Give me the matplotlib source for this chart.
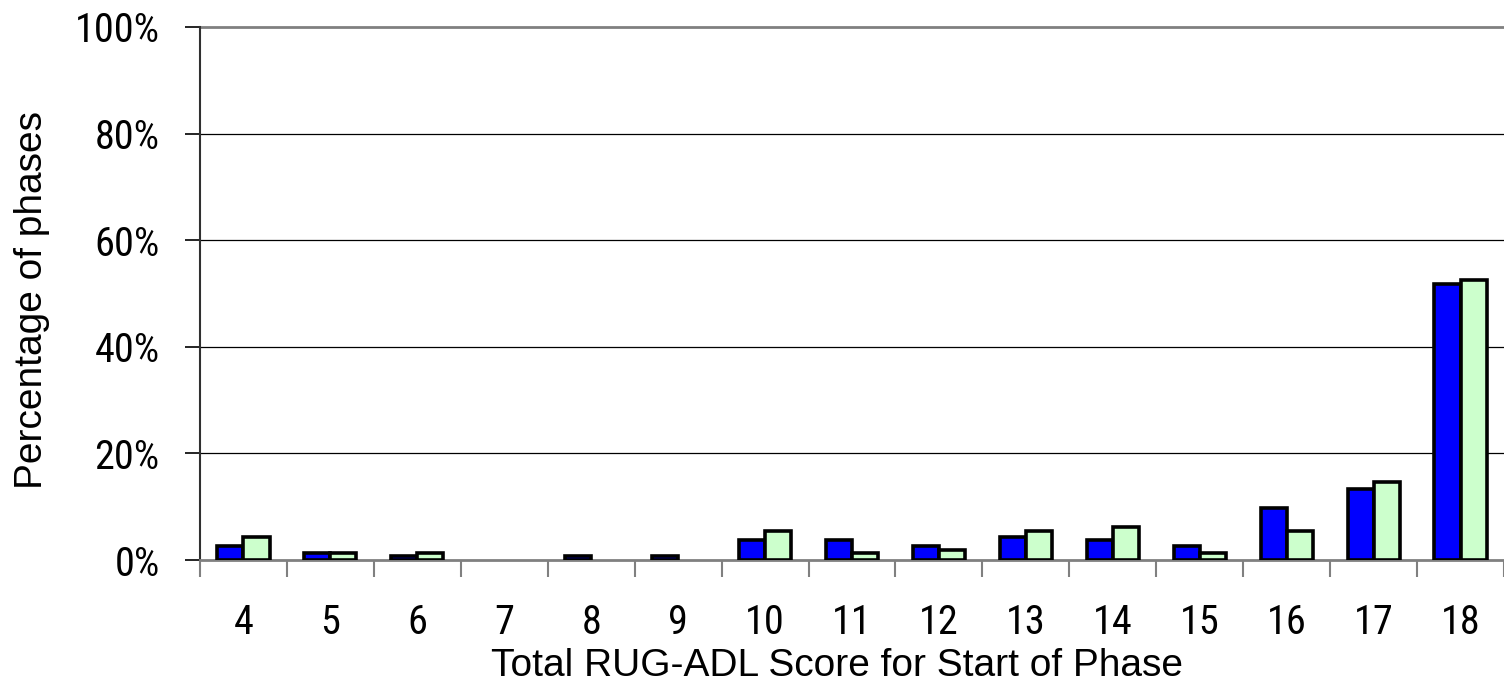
import matplotlib.pyplot as plt
import numpy as np

scores = [4, 5, 6, 7, 8, 9, 10, 11, 12, 13, 14, 15, 16, 17, 18]
blue_pct = [2.6, 1.4, 0.7, 0.0, 0.7, 0.7, 3.7, 3.7, 2.6, 4.3, 3.7, 2.6, 9.8, 13.4, 51.7]
green_pct = [4.4, 1.3, 1.3, 0.0, 0.0, 0.0, 5.4, 1.3, 1.8, 5.4, 6.2, 1.3, 5.4, 14.6, 52.6]
yticks = [0, 20, 40, 60, 80, 100]

narrow = ['Roboto Condensed', 'Liberation Sans Narrow', 'Arial Narrow', 'Archivo Narrow',
          'PT Sans Narrow', 'Liberation Sans', 'DejaVu Sans']
plain = ['Liberation Sans', 'DejaVu Sans']
plt.rcParams['font.family'] = narrow

fig = plt.figure(figsize=(15.04, 6.86), dpi=100)
ax = fig.add_axes([200 / 1504, 1 - 560 / 686, 1304 / 1504, 533 / 686])

x = np.arange(len(scores))
blue = np.array(blue_pct)
green = np.array(green_pct)
w = 0.3
# empty categories show no bar at all in the original
ax.bar(x[blue > 0] - w / 2, blue[blue > 0], w, color='#0000ff',
       edgecolor='black', linewidth=2.6, zorder=3)
ax.bar(x[green > 0] + w / 2, green[green > 0], w, color='#ccffcc',
       edgecolor='black', linewidth=2.6, zorder=3)

ax.set_xlim(-0.5, len(scores) - 0.5)
ax.set_ylim(0, 100)

ax.set_yticks(yticks)
ax.set_yticklabels([f'{v}%' for v in yticks], fontsize=29)
ax.tick_params(axis='y', length=11, width=1.2, pad=18, colors='black')
for v in yticks[1:-1]:
    ax.axhline(v, color='black', linewidth=0.9, zorder=1)
ax.axhline(100, color='#808080', linewidth=2, zorder=1, clip_on=False)

ax.set_xticks(x)
ax.set_xticklabels([str(s) for s in scores], fontsize=29)
ax.tick_params(axis='x', which='major', length=0, pad=31)
ax.set_xticks(np.arange(len(scores) + 1) - 0.5, minor=True)
ax.tick_params(axis='x', which='minor', length=12, width=1.5, color='#808080')

for side in ['top', 'right']:
    ax.spines[side].set_visible(False)
ax.spines['bottom'].set_color('#808080')
ax.spines['bottom'].set_linewidth(2)
ax.spines['left'].set_color('#303030')
ax.spines['left'].set_linewidth(1.5)

fig.text(837 / 1504, 1 - 666 / 686, 'Total RUG-ADL Score for Start of Phase',
         fontsize=28, family=plain, ha='center', va='center')
fig.text(32 / 1504, 1 - 300 / 686, 'Percentage of phases', fontsize=28,
         family=plain, rotation=90, ha='center', va='center')

fig.savefig('out.png', dpi=100)
